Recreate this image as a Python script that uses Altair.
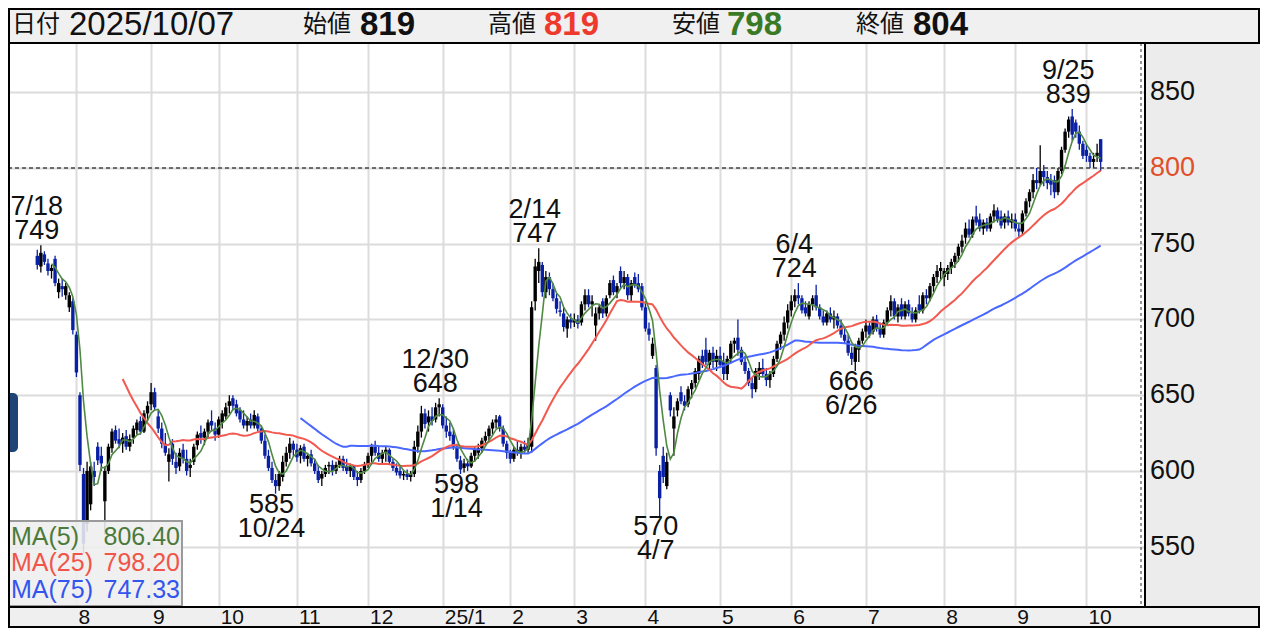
import altair as alt
import pandas as pd

# ---- daily candles (open, high, low, close), one list per month ----
c2407 = [(742,746,733,736),(735,749,731,744),(743,745,736,738),(737,740,729,732),(732,736,727,734),
         (740,742,722,724),(718,727,714,724),(722,727,715,720),(716,724,713,722),(708,718,705,716),
         (712,714,690,693)]
c2408 = [(690,692,662,665),(650,652,600,604),(598,602,546,552),(565,606,560,600),(578,606,574,603),
         (600,606,590,596),(616,619,604,607),(610,616,600,605),(580,603,558,600),(600,618,598,616),
         (615,628,612,626),(627,630,618,620),(621,628,615,618),(618,625,612,622),(623,627,614,616),
         (616,624,613,621),(622,630,618,628),(627,634,624,632),(633,636,624,626),(626,640,625,638),
         (638,646,633,643)]
c2409 = [(644,658,640,652),(652,655,640,642),(636,640,625,628),(628,632,615,618),(618,625,610,612),
         (606,615,593,611),(618,621,604,608),(606,612,598,602),(603,615,600,612),(614,618,605,608),
         (608,614,597,600),(602,608,596,604),(606,618,604,616),(617,626,614,624),(625,630,618,622),
         (622,628,617,626),(626,634,622,632),(633,640,626,630),(628,632,620,624)]
c2410 = [(624,636,622,634),(632,640,628,638),(636,645,634,642),(643,650,638,646),(648,650,640,643),
         (644,647,636,638),(640,642,632,634),(634,640,628,630),(630,636,626,633),(634,638,628,630),
         (630,640,628,637),(636,638,626,628),(628,630,618,620),(620,624,608,610),(610,614,600,602),
         (602,606,592,594),(594,598,585,590),(590,600,587,598),(596,610,593,606),(606,616,603,612),
         (612,622,608,618),(618,620,610,614)]
c2411 = [(614,618,606,609),(610,617,605,615),(616,618,606,608),(608,612,603,610),(611,614,603,605),
         (605,608,598,600),(600,604,592,594),(595,600,590,598),(598,604,596,602),(603,606,598,604),
         (604,607,597,600),(600,606,598,604),(604,610,602,608),(608,610,600,602),(603,608,598,600),
         (600,605,596,603),(603,604,594,596),(596,600,590,594),(594,602,592,600),(600,606,598,604)]
c2412 = [(604,612,602,610),(610,618,606,616),(616,620,610,612),(612,616,606,608),(608,614,604,612),
         (612,616,606,614),(614,615,604,606),(606,608,600,602),(602,605,597,599),(600,603,595,597),
         (597,600,594,598),(598,601,594,596),(596,600,593,598),(598,620,596,616),(616,630,612,626),
         (626,643,622,638),(638,641,628,631),(632,640,626,636),(636,642,630,633),(634,645,632,642),
         (642,648,636,644)]
c2501 = [(642,644,628,630),(630,636,622,626),(626,632,620,623),(624,628,614,616),(616,618,606,608),
         (607,610,598,601),(602,608,599,605),(605,608,600,603),(603,612,602,610),(610,616,606,614),
         (612,618,608,615),(615,622,612,620),(620,626,616,623),(623,630,620,628),(628,634,624,632),
         (632,637,628,634),(636,637,626,628),(628,630,616,618),(618,620,608,612)]
c2502 = [(612,614,605,608),(608,616,606,614),(614,620,610,612),(612,618,608,616),(616,620,612,614),
         (614,622,612,618),(616,712,612,708),(712,740,706,735),(732,747,724,738),(736,738,715,718),
         (718,732,714,728),(728,731,716,720),(720,724,712,714),(714,717,704,707),(706,712,702,705),
         (704,708,692,695),(694,702,688,700),(700,704,694,698)]
c2503 = [(698,704,695,700),(700,703,694,697),(698,712,696,710),(710,720,706,716),(716,720,708,710),
         (710,716,702,712),(696,708,686,704),(704,710,700,708),(712,714,701,704),(704,716,702,714),
         (716,726,714,724),(726,729,716,718),(718,724,714,722),(732,735,720,724),(724,732,720,728),
         (728,730,713,716),(716,726,712,724),(728,731,721,723),(724,730,718,720),(722,724,706,708)]
c2504 = [(708,712,692,694),(694,698,686,690),(676,688,674,684),(668,670,610,615),(600,604,570,582),
         (610,616,592,596),(590,612,588,606),(650,652,636,640),(628,642,610,636),(640,648,636,646),
         (652,656,644,646),(646,650,640,643),(644,656,642,654),(654,660,648,658),(658,668,655,666),
         (664,676,660,674),(676,680,668,670),(680,688,670,672),(670,680,667,678),(678,682,668,672),
         (672,680,666,676)]
c2505 = [(676,682,668,670),(672,678,660,664),(664,676,660,674),(674,686,672,684),(684,688,678,686),
         (688,700,676,680),(680,682,670,672),(672,676,664,666),(666,668,656,658),(658,662,648,654),
         (654,668,652,666),(664,672,660,668),(668,674,662,664),(664,668,656,660),(660,666,655,664),
         (664,676,662,674),(674,686,672,684),(684,692,680,690),(690,702,686,698),(698,710,694,706)]
c2506 = [(706,716,702,712),(712,720,708,716),(716,724,710,714),(714,716,704,706),(708,712,702,704),
         (702,712,700,710),(710,716,706,714),(716,723,706,708),(708,710,700,702),(702,706,696,698),
         (698,706,696,704),(704,708,698,700),(700,706,694,702),(702,704,694,696),(696,700,688,690),
         (690,694,684,686),(686,690,676,678),(678,682,670,674),(672,684,666,682),(680,688,672,686),
         (686,694,684,692)]
c2507 = [(692,700,688,696),(696,698,688,690),(692,702,690,700),(700,703,692,694),(694,698,688,690),
         (690,700,688,698),(698,708,696,706),(706,716,702,712),(712,714,700,702),(702,710,698,708),
         (710,714,700,702),(702,712,700,710),(710,713,702,704),(704,708,698,700),(700,708,698,706),
         (710,716,704,706),(706,718,704,716),(716,720,710,714),(714,724,712,722),(722,730,718,728),
         (728,736,724,732),(732,738,726,734)]
c2508 = [(728,734,722,732),(730,736,726,734),(734,740,730,738),(738,744,734,742),(742,750,738,748),
         (748,756,744,752),(754,764,750,760),(760,766,754,756),(756,768,754,766),(768,775,762,764),
         (766,770,758,760),(760,766,756,764),(764,767,758,760),(760,770,758,768),(768,776,764,772),
         (772,774,764,766),(768,772,760,762),(764,770,760,768),(768,772,762,764),(764,770,760,766)]
c2509 = [(766,770,758,760),(760,764,754,758),(758,772,756,770),(770,780,768,778),(778,786,774,784),
         (784,796,780,792),(792,800,786,790),(790,815,788,798),(798,802,788,794),(794,798,786,790),
         (792,796,782,789),(792,795,780,784),(784,800,782,798),(798,814,796,812),(812,826,810,824),
         (824,834,820,832),(834,839,818,822),(830,832,820,824),(824,828,812,816),(816,818,806,808)]
c2510 = [(812,816,804,808),(808,810,800,804),(804,810,800,806),(808,816,804,810),(819,819,798,804)]

holidays = ["2024-08-12","2024-09-16","2024-09-23","2024-10-14","2024-11-04","2024-12-31",
            "2025-01-01","2025-01-02","2025-01-03","2025-01-13","2025-02-11","2025-02-24",
            "2025-03-20","2025-04-29","2025-05-05","2025-05-06","2025-07-21","2025-08-11",
            "2025-09-15","2025-09-23"]

month_labels = ["8","9","10","11","12","25/1","2","3","4","5","6","7","8","9","10"]
y_ticks = [550, 600, 650, 700, 750, 800, 850]
ref_price = 800

ann_dates = ["2024-07-18","2024-10-24","2024-12-30","2025-01-14","2025-02-14",
             "2025-04-07","2025-06-04","2025-06-26","2025-09-25"]
ann_text = ["7/18","10/24","12/30","1/14","2/14","4/7","6/4","6/26","9/25"]
ann_value = [749, 585, 648, 598, 747, 570, 724, 666, 839]
ann_kind = ["high","low","high","low","high","low","high","low","high"]

header_names = ["日付", "始値", "高値", "安値", "終値"]
header_values = ["2025/10/07", "819", "819", "798", "804"]
legend_names = ["MA(5)", "MA(25)", "MA(75)"]
legend_values = ["806.40", "798.20", "747.33"]

# ---- build table ----
months = [c2407, c2408, c2409, c2410, c2411, c2412, c2501, c2502, c2503,
          c2504, c2505, c2506, c2507, c2508, c2509, c2510]
candles = [c for m in months for c in m]
days = pd.bdate_range("2024-07-17", "2025-10-07")
days = days[~days.isin(pd.to_datetime(holidays))]
n = min(len(days), len(candles))
df = pd.DataFrame(candles[:n], columns=["open", "high", "low", "close"])
df["idx"] = list(range(n))
df["date"] = list(days[:n].strftime("%Y-%m-%d"))
df["ym"] = list(days[:n].strftime("%Y-%m"))

starts = df.groupby("ym")["idx"].min().sort_index().tolist()[1:]
k = min(len(starts), len(month_labels))
month_df = pd.DataFrame({"idx": starts[:k], "label": month_labels[:k]})

ann = pd.DataFrame({"date": ann_dates, "text": ann_text, "value": ann_value, "kind": ann_kind})
ann = ann.merge(df[["date", "idx"]], on="date", how="inner")
ytick_df = pd.DataFrame({"v": y_ticks})
ref_df = pd.DataFrame({"v": [ref_price]})
one = pd.DataFrame({"k": [0]})

# ---- style ----
W, H = 1136, 564
NUM = "Liberation Sans"
JP = "Noto Sans CJK JP"
UP, DOWN = "#000000", "#0a20a4"
C5, C25, C75 = "#4f8a43", "#f25a50", "#4a68ff"

xs = alt.Scale(domain=[-6.83, 309.78], nice=False, zero=False)
ys = alt.Scale(domain=[510.2, 882.5], nice=False, zero=False)
xaxis = alt.Axis(values=starts, grid=True, gridColor="#dcdcdc", gridWidth=2, labels=False,
                 ticks=False, domain=False, title=None)
yaxis = alt.Axis(values=y_ticks, grid=True, gridColor="#dcdcdc", gridWidth=2, labels=False,
                 ticks=False, domain=False, title=None)


def X(f):
    return alt.X(f"{f}:Q", scale=xs, axis=xaxis)


def Y(f):
    return alt.Y(f"{f}:Q", scale=ys, axis=yaxis)


layers = []

base = alt.Chart(df).transform_calculate(dir="datum.close >= datum.open ? 'up' : 'down'")
col = alt.Color("dir:N", scale=alt.Scale(domain=["up", "down"], range=[UP, DOWN]), legend=None)
layers.append(base.mark_rule(strokeWidth=1.3, clip=True).encode(
    x=X("idx"), y=Y("low"), y2=alt.Y2("high:Q"), color=col))
layers.append(base.mark_bar(size=3.4, clip=True).encode(
    x=X("idx"), y=Y("open"), y2=alt.Y2("close:Q"), color=col))


def ma_layer(win, color, width):
    return (alt.Chart(df)
            .transform_window(ma="mean(close)", frame=[-(win - 1), 0], sort=[alt.SortField("idx")])
            .transform_filter(f"datum.idx >= {win - 1}")
            .mark_line(color=color, strokeWidth=width, clip=True)
            .encode(x=X("idx"), y=Y("ma")))


layers.append(ma_layer(75, C75, 2))
layers.append(ma_layer(25, C25, 2))
layers.append(ma_layer(5, C5, 1.6))

# reference price dashed line and right dotted edge
layers.append(alt.Chart(ref_df).mark_rule(color="#444444", strokeWidth=1.5, strokeDash=[4, 3]).encode(
    x=alt.value(0), x2=alt.value(1133), y=Y("v")))
layers.append(alt.Chart(one).mark_rule(color="#777777", strokeWidth=1.5, strokeDash=[3, 3]).encode(
    x=alt.value(1133), y=alt.value(0), y2=alt.value(H)))

# high / low annotations
ab = alt.Chart(ann)
hi = ab.transform_filter("datum.kind == 'high'")
lo = ab.transform_filter("datum.kind == 'low'")
tkw = dict(font=NUM, fontSize=27, color="#111111", align="center", baseline="middle", clip=True, dx=-4)
layers.append(hi.mark_text(dy=-14, **tkw).encode(x=X("idx"), y=Y("value"), text="value:Q"))
layers.append(hi.mark_text(dy=-38, **tkw).encode(x=X("idx"), y=Y("value"), text="text:N"))
layers.append(lo.mark_text(dy=11, **tkw).encode(x=X("idx"), y=Y("value"), text="value:Q"))
layers.append(lo.mark_text(dy=35, **tkw).encode(x=X("idx"), y=Y("value"), text="text:N"))


def box(x, x2, y, y2, **kw):
    return alt.Chart(one).mark_rect(**kw).encode(
        x=alt.value(x), x2=alt.value(x2), y=alt.value(y), y2=alt.value(y2))


def label(text, x, y, size, color="#111111", font=NUM, weight="normal", align="left"):
    return alt.Chart(one).mark_text(text=text, font=font, fontSize=size, fontWeight=weight,
                                    color=color, align=align, baseline="middle").encode(
        x=alt.value(x), y=alt.value(y))


# left handle tab
layers.append(box(0, 10, 350, 409, color="#1f4577", cornerRadiusTopRight=6, cornerRadiusBottomRight=6))

# MA legend box
layers.append(box(1, 174, 478, 563, fill="#eeeeee", fillOpacity=0.88, stroke="#9a9a9a", strokeWidth=2))
leg_colors = ["#4b7a3a", "#f0554a", "#3355ee"]
leg_y = [494, 520, 547]
for nm, val, c, yy in zip(legend_names, legend_values, leg_colors, leg_y):
    layers.append(label(nm, 3, yy, 25, color=c))
    layers.append(label(val, 172, yy, 25, color=c, align="right"))

# right price panel, bottom date strip, header bar
layers.append(box(1136, 1252, 0, H, fill="#ececec"))
layers.append(alt.Chart(one).mark_rule(color="#000000", strokeWidth=2).encode(
    x=alt.value(1137), y=alt.value(0), y2=alt.value(H)))
layers.append(box(1, 1251, H, H + 20, fill="#efefef", stroke="#000000", strokeWidth=2))
layers.append(box(1, 1251, -34, 0, fill="#f0f0f0", stroke="#000000", strokeWidth=2))
layers.append(alt.Chart(one).mark_rule(color="#000000", strokeWidth=2).encode(
    x=alt.value(1), y=alt.value(-34), y2=alt.value(H + 20)))

# y-axis labels
layers.append(alt.Chart(ytick_df).mark_text(font=NUM, fontSize=27, align="left", baseline="middle").encode(
    x=alt.value(1142), y=Y("v"), text="v:Q",
    color=alt.condition(f"datum.v == {ref_price}", alt.value("#e0502a"), alt.value("#111111"))))

# month labels
layers.append(alt.Chart(month_df).mark_text(font=NUM, fontSize=21, align="left", baseline="middle",
                                            dx=2, color="#111111").encode(
    x=X("idx"), y=alt.value(575), text="label:N"))

# header texts
name_x = [4, 295, 480, 664, 848]
val_x = [61, 352, 536, 719, 905]
val_col = ["#111111", "#111111", "#ee3a2c", "#3a7a26", "#111111"]
val_w = ["normal", "bold", "bold", "bold", "bold"]
for nm, v, nx, vx, c, w in zip(header_names, header_values, name_x, val_x, val_col, val_w):
    layers.append(label(nm, nx, -18, 24, font=JP))
    layers.append(label(v, vx, -18, 33, color=c, weight=w))

chart = alt.layer(*layers).properties(
    width=W, height=H,
    autosize=alt.AutoSizeParams(type="none"),
    padding={"left": 0, "top": 35, "right": 116, "bottom": 21},
    background="#ffffff",
).configure_view(strokeWidth=0)

chart.save("out.html", embed_options={"renderer": "svg", "actions": False})
